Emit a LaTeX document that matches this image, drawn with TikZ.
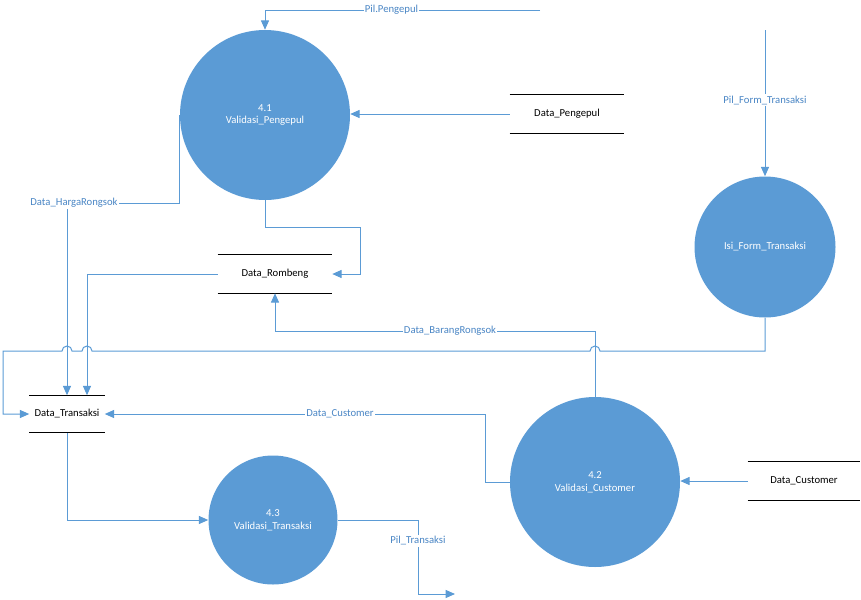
\documentclass[tikz,border=0pt]{standalone}
\usepackage{fontspec}
\setmainfont{Carlito}
\usetikzlibrary{arrows.meta}
\definecolor{procblue}{HTML}{5B9BD5}
\definecolor{flowblue}{HTML}{5B9BD5}
\definecolor{lblblue}{HTML}{4A86C5}
\tikzset{
  process/.style={circle, fill=procblue, draw=none, text=white, align=center,
    font=\fontsize{8}{9.5}\selectfont, inner sep=0pt},
  store/.style={rectangle, draw=none, font=\fontsize{8}{9.5}\selectfont, inner sep=0pt},
  flow/.style={draw=flowblue, line width=0.75pt, -{Triangle[length=7pt,width=6pt]}},
  lbl/.style={fill=white, text=lblblue, font=\fontsize{8}{9.5}\selectfont, inner sep=1pt},
  storeline/.style={draw=black, line width=0.75pt},
}
\newcommand{\storelines}[1]{%
  \draw[storeline] (#1.north west) -- (#1.north east);
  \draw[storeline] (#1.south west) -- (#1.south east);}
\begin{document}
\begin{tikzpicture}[x=0.75pt,y=-0.75pt]
\useasboundingbox (0,0) rectangle (861,600);

% processes
\node[process, minimum size=127.5pt] (p41) at (265,115) {4.1\\Validasi\_Pengepul};
\node[process, minimum size=105.75pt] (pisi) at (765,247) {Isi\_Form\_Transaksi};
\node[process, minimum size=127.5pt] (p42) at (595,482) {4.2\\Validasi\_Customer};
\node[process, minimum size=96.75pt] (p43) at (273,520) {4.3\\Validasi\_Transaksi};

% data stores
\node[store, minimum width=85.5pt, minimum height=28.5pt] (sPengepul) at (567,114) {Data\_Pengepul};
\node[store, minimum width=85.5pt, minimum height=28.5pt] (sRombeng) at (275,274) {Data\_Rombeng};
\node[store, minimum width=56.25pt, minimum height=27.75pt] (sTransaksi) at (67,414) {Data\_Transaksi};
\node[store, minimum width=84pt, minimum height=28.5pt] (sCustomer) at (804,481) {Data\_Customer};
\storelines{sPengepul}
\storelines{sRombeng}
\storelines{sTransaksi}
\storelines{sCustomer}

% free ends and bend points
\coordinate (pilsrc) at (540,10);
\coordinate (hrc) at (67,203);
\coordinate (rbc) at (360,227);
\coordinate (brc) at (595,331);
\coordinate (dcc) at (485,414);
\coordinate (pfsrc) at (765,30);
\coordinate (ptc) at (418,594);
\coordinate (ptend) at (455,594);
\coordinate (loopc) at (3,351);

% flows
\draw[flow] (pilsrc) -| (p41.north) node[lbl, pos=0.27] {Pil.Pengepul};
\draw[flow] (sPengepul.west) -- (sPengepul.west -| p41.east);
\draw[flow] (p41.west) |- (hrc) -- (sTransaksi.north);
\node[lbl] at (74,203) {Data\_HargaRongsok};
\draw[flow] (p41.south) |- (rbc) |- (sRombeng.east);
\draw[flow] (sRombeng.west) -| ([xshift=15pt]sTransaksi.north);
\draw[flow] (p42.north) |- (brc) -| (sRombeng.south);
\node[lbl] at (450,331) {Data\_BarangRongsok};
\draw[flow] (pisi.south) |- (600,351)
  arc[start angle=0, end angle=180, radius=3.75pt] -- (92,351)
  arc[start angle=0, end angle=180, radius=3.75pt] -- (72,351)
  arc[start angle=0, end angle=180, radius=3.75pt] -- (loopc)
  |- (sTransaksi.west);
\draw[flow] (p42.west) -| (dcc) -- (sTransaksi.east);
\node[lbl] at (340,414) {Data\_Customer};
\draw[flow] (sCustomer.west) -- (sCustomer.west -| p42.east);
\draw[flow] (pfsrc) -- (pisi.north) node[lbl, pos=0.48] {Pil\_Form\_Transaksi};
\draw[flow] (sTransaksi.south) |- (p43.west);
\draw[flow] (p43.east) -| (ptc) -- (ptend);
\node[lbl] at (418,541) {Pil\_Transaksi};
\end{tikzpicture}
\end{document}
